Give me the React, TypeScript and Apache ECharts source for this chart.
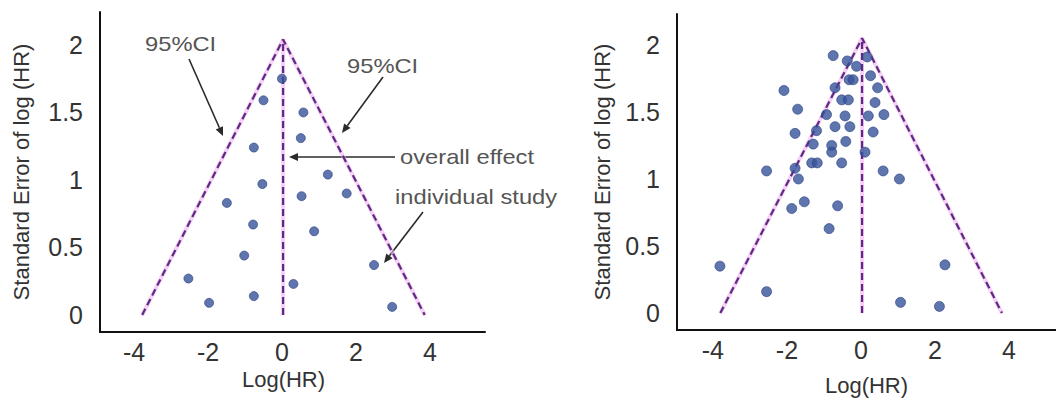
import React, { useEffect, useRef } from "react";
import * as echarts from "echarts";

// Tick values
const xTicks = [-4, -2, 0, 2, 4];
const yTicks = [0, 0.5, 1, 1.5, 2];

// Left funnel plot: individual studies [log(HR), SE]
const leftStudies: [number, number][] = [
  [0.0, 1.75], [-0.5, 1.59], [0.58, 1.5], [0.51, 1.31], [-0.76, 1.24],
  [1.24, 1.04], [-0.53, 0.97], [0.53, 0.88], [1.75, 0.9], [-1.49, 0.83],
  [-0.78, 0.67], [0.87, 0.62], [-1.02, 0.44], [2.49, 0.37], [-2.53, 0.27],
  [0.31, 0.23], [-1.97, 0.09], [-0.76, 0.14], [2.98, 0.06],
];

// Right funnel plot: individual studies [log(HR), SE]
const rightStudies: [number, number][] = [
  [-0.75, 1.92], [-0.37, 1.88], [-0.12, 1.84], [0.17, 1.91], [-0.32, 1.74],
  [-0.21, 1.74], [0.26, 1.77], [-0.7, 1.68], [0.45, 1.68], [-2.08, 1.66],
  [-0.52, 1.59], [-0.34, 1.59], [0.38, 1.57], [-1.71, 1.52], [-0.93, 1.48],
  [-0.43, 1.47], [0.2, 1.47], [0.62, 1.48], [-1.78, 1.34], [-1.2, 1.36],
  [-0.7, 1.39], [-0.3, 1.39], [0.33, 1.35], [-1.29, 1.26], [-0.79, 1.25],
  [-0.41, 1.28], [-0.79, 1.2], [0.11, 1.2], [-1.33, 1.12], [-1.18, 1.12],
  [-0.52, 1.12], [-2.55, 1.06], [-1.78, 1.08], [-1.69, 1.0], [0.6, 1.06],
  [1.04, 1.0], [-1.87, 0.78], [-1.53, 0.83], [-0.63, 0.8], [-0.86, 0.63],
  [-3.81, 0.35], [2.27, 0.36], [-2.55, 0.16], [1.07, 0.08], [2.12, 0.05],
];

// 95% CI funnel and overall effect lines
const leftFunnel: [number, number][] = [[-3.78, 0], [0.03, 2.04], [3.86, 0]];
const leftCenter: [number, number][] = [[0.03, 0], [0.03, 2.04]];
const rightFunnel: [number, number][] = [[-3.8, 0], [0.03, 2.05], [3.81, 0]];
const rightCenter: [number, number][] = [[0.03, 0], [0.03, 2.05]];

const FONT = "'Liberation Sans', Arial, Helvetica, sans-serif";

function arrow(x1: number, y1: number, x2: number, y2: number) {
  const ang = Math.atan2(y2 - y1, x2 - x1);
  const len = 9;
  const hw = 4;
  const bx = x2 - len * Math.cos(ang);
  const by = y2 - len * Math.sin(ang);
  const px = -Math.sin(ang) * hw;
  const py = Math.cos(ang) * hw;
  return [
    {
      type: "line",
      shape: { x1, y1, x2: bx, y2: by },
      style: { stroke: "#2b2b2b", lineWidth: 1.6 },
      silent: true,
    },
    {
      type: "polygon",
      shape: { points: [[x2, y2], [bx + px, by + py], [bx - px, by - py]] },
      style: { fill: "#2b2b2b" },
      silent: true,
    },
  ];
}

function label(text: string, x: number, y: number) {
  return {
    type: "text",
    x,
    y,
    scaleX: 1.13,
    silent: true,
    style: {
      text,
      fill: "#555555",
      fontSize: 21,
      fontFamily: FONT,
      align: "left",
      verticalAlign: "middle",
    },
  };
}

function makeXAxis(gridIndex: number, min: number, max: number, nameGap: number, padRight: number) {
  return {
    type: "value",
    gridIndex,
    min,
    max,
    axisLine: { show: true, onZero: false, lineStyle: { color: "#111", width: 2 } },
    axisTick: { show: false },
    splitLine: { show: false },
    axisLabel: {
      customValues: xTicks,
      fontSize: 25,
      color: "#333",
      margin: 7,
      fontFamily: FONT,
    },
    name: "Log(HR)",
    nameLocation: "middle",
    nameGap,
    nameTextStyle: {
      fontSize: 22,
      color: "#333",
      fontFamily: FONT,
      padding: [0, padRight, 0, 0],
    },
  };
}

function makeYAxis(gridIndex: number, min: number, max: number, nameGap: number) {
  return {
    type: "value",
    gridIndex,
    min,
    max,
    axisLine: { show: true, onZero: false, lineStyle: { color: "#111", width: 2 } },
    axisTick: { show: false },
    splitLine: { show: false },
    axisLabel: {
      customValues: yTicks,
      fontSize: 25,
      color: "#333",
      margin: 17,
      fontFamily: FONT,
    },
    name: "Standard Error of log (HR)",
    nameLocation: "middle",
    nameGap,
    nameTextStyle: { fontSize: 22, color: "#333", fontFamily: FONT },
  };
}

function funnelSeries(idx: number, funnel: [number, number][], center: [number, number][]) {
  const halo = { color: "#f2b0f2", width: 4, opacity: 0.6 };
  const dash = { color: "#5e2a82", width: 2.2, type: [7, 4] as number[] };
  return [
    { type: "line", xAxisIndex: idx, yAxisIndex: idx, data: funnel, symbol: "none", silent: true, lineStyle: halo, z: 1 },
    { type: "line", xAxisIndex: idx, yAxisIndex: idx, data: center, symbol: "none", silent: true, lineStyle: halo, z: 1 },
    { type: "line", xAxisIndex: idx, yAxisIndex: idx, data: funnel, symbol: "none", silent: true, lineStyle: dash, z: 2 },
    { type: "line", xAxisIndex: idx, yAxisIndex: idx, data: center, symbol: "none", silent: true, lineStyle: dash, z: 2 },
  ];
}

export default function App() {
  const ref = useRef<HTMLDivElement>(null);

  useEffect(() => {
    if (!ref.current) return;
    const chart = echarts.init(ref.current, null, { renderer: "svg" });
    const option = {
      animation: false,
      backgroundColor: "#ffffff",
      grid: [
        { left: 100, top: 12, width: 385, height: 320 },
        { left: 677, top: 14, width: 379, height: 318 },
      ],
      xAxis: [
        makeXAxis(0, -4.92, 5.49, 35, 18),
        makeXAxis(1, -4.97, 5.27, 44, 0),
      ],
      yAxis: [
        makeYAxis(0, -0.126, 2.244, 68),
        makeYAxis(1, -0.126, 2.23, 64),
      ],
      series: [
        ...funnelSeries(0, leftFunnel, leftCenter),
        ...funnelSeries(1, rightFunnel, rightCenter),
        {
          type: "scatter",
          xAxisIndex: 0,
          yAxisIndex: 0,
          data: leftStudies,
          symbolSize: 9,
          itemStyle: { color: "#36529a", borderColor: "#2a4080", borderWidth: 0.8 },
          z: 3,
        },
        {
          type: "scatter",
          xAxisIndex: 1,
          yAxisIndex: 1,
          data: rightStudies,
          symbolSize: 10,
          itemStyle: { color: "#36529a", borderColor: "#2a4080", borderWidth: 0.8 },
          z: 3,
        },
      ],
      graphic: [
        label("95%CI", 145, 44),
        label("95%CI", 347, 66),
        label("overall effect", 400, 157),
        label("individual study", 395, 197),
        ...arrow(189, 59, 223, 136),
        ...arrow(383, 77, 342, 133),
        ...arrow(395, 157, 289, 157),
        ...arrow(423, 212, 384, 263),
      ],
    };
    chart.setOption(option as any);
    return () => chart.dispose();
  }, []);

  return (
    <div
      ref={ref}
      style={{ position: "absolute", left: 0, top: 0, width: 1056, height: 401 }}
    />
  );
}
